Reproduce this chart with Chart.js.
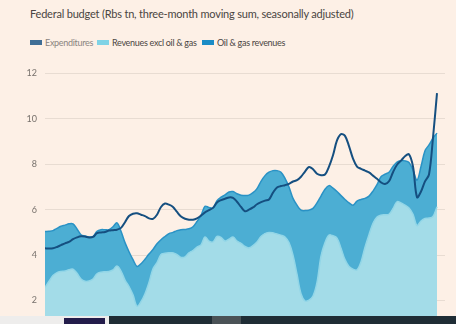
<!DOCTYPE html>
<html>
<head>
<meta charset="utf-8">
<script src="https://cdn.jsdelivr.net/npm/chart.js@4.4.0/dist/chart.umd.min.js"></script>
<style>
  html, body { margin: 0; padding: 0; width: 456px; height: 324px; overflow: hidden; background: #fdf0e6; }
  body { position: relative; font-family: Lato, "Noto Sans", sans-serif; }
  #title { position: absolute; left: 30px; top: 7px; font-size: 11px; letter-spacing: -0.2px; color: #4a4542; white-space: nowrap; }
  #legend { position: absolute; left: 30px; top: 37px; font-size: 9px; letter-spacing: -0.3px; color: #4a4542; white-space: nowrap; }
  #legend span.item { position: absolute; top: 0; white-space: nowrap; }
  #legend i { display: inline-block; width: 12px; height: 5px; margin-right: 3px; vertical-align: 1px; }
  #wrap { position: absolute; left: 0; top: 60px; width: 456px; height: 300px; }
  .bar { position: absolute; }
</style>
</head>
<body>
<div id="title">Federal budget (Rbs tn, three-month moving sum, seasonally adjusted)</div>
<div id="legend"></div>
<div id="wrap"><canvas id="budgetChart"></canvas></div>
<div class="bar" style="left:0;top:316px;width:109px;height:8px;background:#eeedec"></div>
<div class="bar" style="left:64px;top:318px;width:41px;height:6px;background:#231c4a"></div>
<div class="bar" style="left:109px;top:316px;width:347px;height:8px;background:#1f2d35"></div>
<div class="bar" style="left:212px;top:316px;width:29px;height:8px;background:#4a5256"></div>
<script>
// Monthly series, Rbs tn (three-month moving sum)
const expenditures = [
  4.30, 4.29, 4.30, 4.36, 4.44, 4.52, 4.58, 4.70, 4.78, 4.83,
  4.82, 4.78, 4.80, 4.97, 5.00, 5.02, 5.08, 5.10, 5.12, 5.20,
  5.45, 5.72, 5.82, 5.84, 5.78, 5.72, 5.62, 5.60, 5.78, 6.12,
  6.27, 6.22, 6.12, 5.90, 5.70, 5.60, 5.56, 5.56, 5.62, 5.74,
  5.88, 5.98, 6.08, 6.32, 6.42, 6.48, 6.54, 6.52, 6.35, 6.12,
  5.93, 6.00, 6.10, 6.24, 6.33, 6.40, 6.45, 6.75, 6.98, 7.04,
  7.08, 7.14, 7.24, 7.30, 7.45, 7.68, 7.88, 7.78, 7.58, 7.52,
  7.55, 7.90, 8.40, 9.05, 9.33, 9.25, 8.80, 8.25, 7.90, 7.80,
  7.72, 7.64, 7.50, 7.36, 7.20, 7.13, 7.25, 7.65, 7.98, 8.16,
  8.35, 8.44, 7.90, 6.55, 6.80, 7.25, 7.55, 9.17, 11.13
];

const revenuesExclOilGas = [
  2.58, 2.85, 3.10, 3.23, 3.28, 3.30, 3.36, 3.38, 3.20, 2.95,
  2.85, 2.86, 2.95, 3.18, 3.25, 3.27, 3.28, 3.35, 3.52, 3.30,
  2.90, 2.62, 2.25, 1.75, 1.95, 2.30, 2.80, 3.40, 3.67, 4.03,
  4.08, 4.10, 4.10, 4.02, 3.90, 3.92, 4.10, 4.20, 4.35, 4.45,
  4.80, 4.62, 4.58, 4.82, 4.78, 4.62, 4.70, 4.80, 4.62, 4.52,
  4.38, 4.32, 4.42, 4.58, 4.82, 4.95, 5.00, 4.98, 4.93, 4.88,
  4.80, 4.55, 4.00, 3.16, 2.30, 1.98, 2.02, 2.20, 2.80, 3.95,
  4.55, 4.88, 4.85, 4.75, 4.30, 3.80, 3.50, 3.38, 3.35, 3.70,
  4.35, 4.90, 5.40, 5.68, 5.76, 5.78, 5.80, 6.05, 6.35, 6.30,
  6.20, 6.08, 5.80, 5.30, 5.50, 5.62, 5.63, 5.70, 6.13
];

const oilGasRevenues = [
  2.46, 2.20, 1.98, 1.95, 1.99, 2.02, 2.02, 2.00, 1.95, 1.95,
  1.99, 1.94, 1.87, 1.87, 1.87, 1.85, 1.84, 1.90, 1.90, 1.75,
  1.65, 1.53, 1.55, 1.75, 1.67, 1.52, 1.25, 0.85, 0.83, 0.65,
  0.74, 0.85, 0.90, 1.06, 1.22, 1.21, 1.06, 1.05, 1.13, 1.30,
  1.35, 1.48, 1.50, 1.58, 1.77, 2.03, 2.08, 2.00, 2.08, 2.12,
  2.24, 2.32, 2.33, 2.35, 2.43, 2.55, 2.65, 2.74, 2.79, 2.77,
  2.58, 2.45, 2.50, 3.04, 3.68, 3.98, 3.96, 3.86, 3.50, 2.65,
  2.35, 2.18, 2.10, 2.05, 2.32, 2.65, 2.80, 2.82, 3.03, 2.75,
  2.15, 1.70, 1.42, 1.42, 1.69, 1.78, 1.85, 1.85, 1.75, 1.86,
  1.95, 2.00, 1.95, 2.00, 2.40, 2.98, 3.22, 3.45, 3.24
];

const yTicks = [0, 2, 4, 6, 8, 10, 12];

const seriesNames = ['Expenditures', 'Revenues excl oil & gas', 'Oil & gas revenues'];
const legendColors = ['#3f6e96', '#7fd3e6', '#1b8cc6'];
const legendTextColors = ['#8a8480', '#4a4542', '#4a4542'];

// legend built by hand, positions follow the chart's header
const legendX = [0, 67, 172];
const legend = document.getElementById('legend');
seriesNames.forEach((name, i) => {
  const item = document.createElement('span');
  item.className = 'item';
  item.style.left = legendX[i] + 'px';
  item.style.color = legendTextColors[i];
  item.innerHTML = '<i style="background:' + legendColors[i] + '"></i>';
  item.appendChild(document.createTextNode(name));
  legend.appendChild(item);
});

const toPoints = arr => arr.map((v, i) => ({ x: i, y: v }));

const ctx = document.getElementById('budgetChart').getContext('2d');
new Chart(ctx, {
  type: 'line',
  data: {
    datasets: [{
      label: seriesNames[0],
      data: toPoints(expenditures),
      stack: 'exp',
      borderColor: '#154f80',
      borderWidth: 2,
      fill: false,
      pointRadius: 0,
      tension: 0.35
    }, {
      label: seriesNames[1],
      data: toPoints(revenuesExclOilGas),
      stack: 'rev',
      borderColor: '#92d6e7',
      backgroundColor: '#a3dce8',
      borderWidth: 1.5,
      fill: 'origin',
      pointRadius: 0,
      tension: 0.35
    }, {
      label: seriesNames[2],
      data: toPoints(oilGasRevenues),
      stack: 'rev',
      borderColor: '#2a92c5',
      backgroundColor: '#4caed3',
      borderWidth: 1.5,
      fill: '-1',
      pointRadius: 0,
      tension: 0.35
    }]
  },
  options: {
    responsive: true,
    maintainAspectRatio: false,
    animation: false,
    events: [],
    layout: { padding: { top: 10, right: 11, bottom: 14, left: 0 } },
    plugins: {
      legend: { display: false },
      tooltip: { enabled: false }
    },
    scales: {
      x: {
        type: 'linear',
        min: 0,
        max: 100,
        display: false
      },
      y: {
        stacked: true,
        min: 0,
        max: 12,
        afterFit: scale => { scale.width = 45; },
        afterBuildTicks: scale => { scale.ticks = yTicks.map(v => ({ value: v })); },
        border: { display: false },
        grid: { color: '#e8dcd2', lineWidth: 1, drawTicks: false },
        ticks: {
          padding: 8,
          color: '#77716c',
          font: { family: 'Lato', size: 9 }
        }
      }
    }
  }
});
</script>
</body>
</html>
